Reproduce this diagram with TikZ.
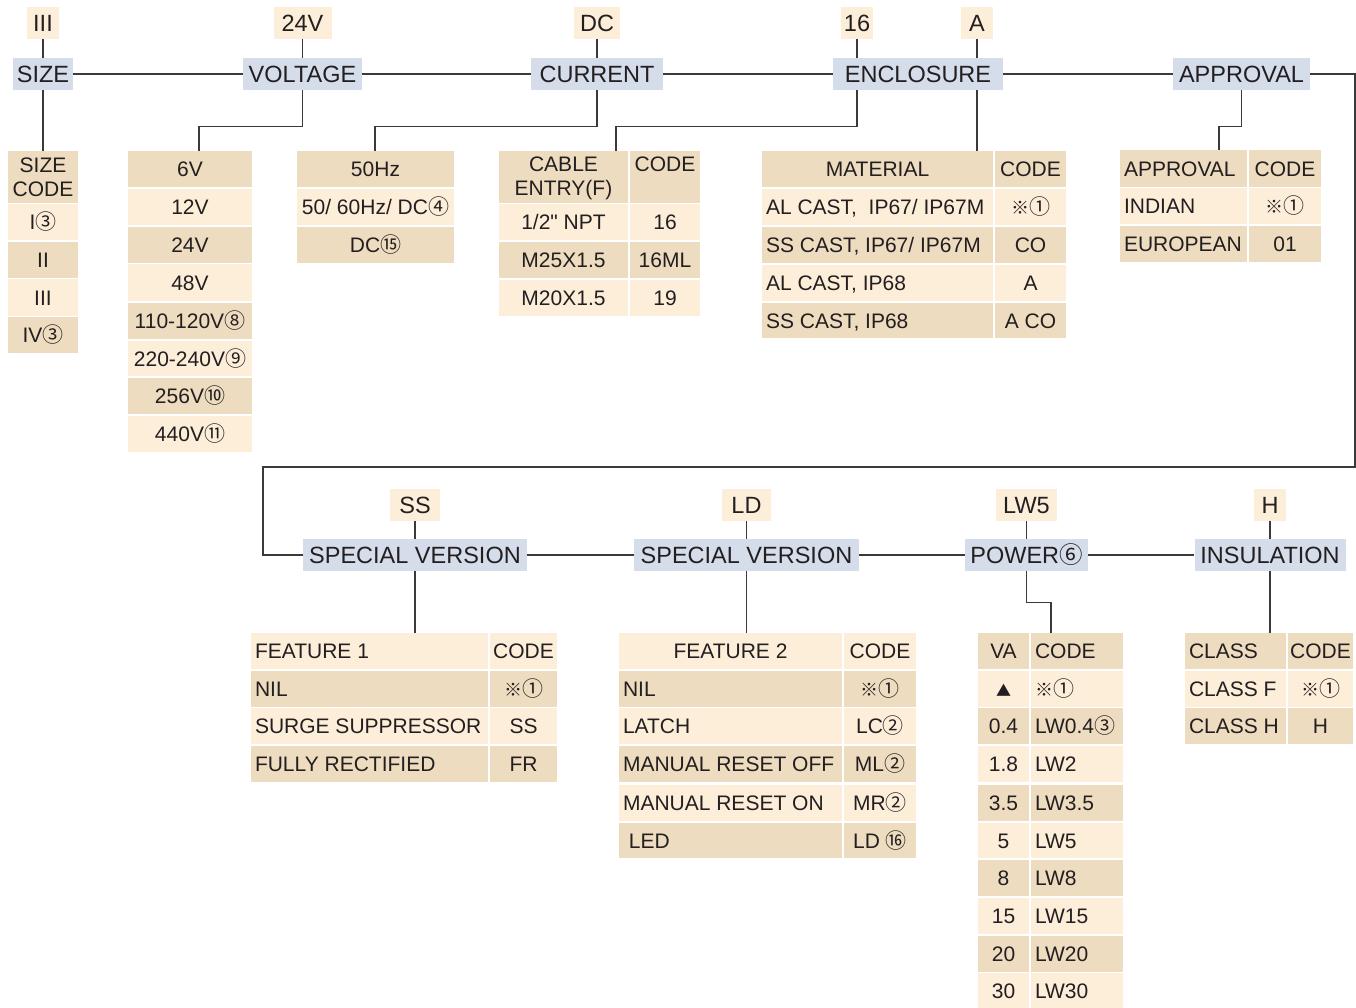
\documentclass[tikz,border=0pt]{standalone}
\usepackage{fontspec}
\setmainfont{Liberation Sans}[Ligatures=TeXOff]
\newfontfamily\symf{Noto Sans CJK SC}
\definecolor{tdk}{HTML}{EDDCBF}
\definecolor{tlt}{HTML}{FDEEDA}
\definecolor{hbl}{HTML}{D5DDEA}
\definecolor{ink}{HTML}{231F20}
\definecolor{wirec}{HTML}{3A3A3A}
\newcommand\cn[1]{{\symf #1}}
\newcommand\rmk{{\symf\fontsize{18}{18}\selectfont ※}}
\tikzset{
  cellbg/.style={draw=none,inner sep=0pt,rectangle},
  txt/.style={inner sep=0pt,text=ink,font=\fontsize{21}{25}\selectfont,text height=15pt,text depth=0pt},
  txtm/.style={inner sep=0pt,text=ink,font=\fontsize{21}{24}\selectfont,align=center},
  hdr/.style={fill=hbl,inner sep=0pt,text=ink,font=\fontsize{23.5}{28}\selectfont,text height=16.8pt,text depth=0pt,minimum height=32pt},
  val/.style={fill=tlt,inner sep=0pt,text=ink,font=\fontsize{23.5}{28}\selectfont,text height=16.8pt,text depth=0pt,minimum height=32pt},
  wire/.style={draw=wirec,line width=1.3pt}
}
\newcommand\tcell[8]{%
  \node[cellbg,fill=#6,minimum width={#4-#2},minimum height={#5-#3}] (#1) at ({(#2+#4)/2},{(#3+#5)/2}) {};
  \if#7l\node[txt,anchor=west] (#1t) at ([xshift=4pt]#1.west) {#8};\else\node[txt] (#1t) at (#1.center) {#8};\fi}
\begin{document}
\begin{tikzpicture}[x=1pt,y=-1pt]
\fill[white] (0,0) rectangle (1356,1007);
\useasboundingbox (0,0) rectangle (1356,1007);

% ---- top row headers
\node[hdr,minimum width=60pt] (hSize) at (43,74) {SIZE};
\node[hdr,minimum width=119pt] (hVolt) at (302.5,74) {VOLTAGE};
\node[hdr,minimum width=132pt] (hCur) at (597,74) {CURRENT};
\node[hdr,minimum width=170pt] (hEnc) at (918,74) {ENCLOSURE};
\node[hdr,minimum width=137pt] (hApp) at (1241.5,74) {APPROVAL};
% ---- top values
\node[val,minimum width=32pt] (vIII) at (43,23) {III};
\node[val,minimum width=58pt] (v24) at (302.5,23) {24V};
\node[val,minimum width=46pt] (vDC) at (597,23) {DC};
\node[val,minimum width=32pt] (v16) at (857,23) {16};
\node[val,minimum width=32pt] (vA) at (977,23) {A};

% ---- bottom row headers
\node[hdr,minimum width=224pt] (hSV1) at (415,555) {SPECIAL VERSION};
\node[hdr,minimum width=225pt] (hSV2) at (746.5,555) {SPECIAL VERSION};
\node[hdr,minimum width=123pt] (hPow) at (1026.5,555) {POWER\cn{⑥}};
\node[hdr,minimum width=151pt] (hIns) at (1270,555) {INSULATION};
\node[val,minimum width=50pt] (vSS) at (415,505) {SS};
\node[val,minimum width=49pt] (vLD) at (746.5,505) {LD};
\node[val,minimum width=61pt] (vLW5) at (1026.5,505) {LW5};
\node[val,minimum width=32pt] (vH) at (1270,505) {H};

% ---- SIZE table
\tcell{s0}{8}{151}{78}{203}{tdk}{c}{}
\node[txtm] (s0t) at (s0.center) {SIZE\\CODE};
\tcell{s1}{8}{204}{78}{240}{tlt}{c}{I\cn{③}}
\tcell{s2}{8}{242}{78}{278}{tdk}{c}{II}
\tcell{s3}{8}{279}{78}{316}{tlt}{c}{III}
\tcell{s4}{8}{317}{78}{353}{tdk}{c}{IV\cn{③}}

% ---- VOLTAGE table
\tcell{tv1}{128}{151}{252}{187}{tdk}{c}{6V}
\tcell{tv2}{128}{189}{252}{225}{tlt}{c}{12V}
\tcell{tv3}{128}{227}{252}{263}{tdk}{c}{24V}
\tcell{tv4}{128}{264}{252}{301}{tlt}{c}{48V}
\tcell{tv5}{128}{303}{252}{339}{tdk}{c}{110-120V\cn{⑧}}
\tcell{tv6}{128}{341}{252}{376}{tlt}{c}{220-240V\cn{⑨}}
\tcell{tv7}{128}{378}{252}{414}{tdk}{c}{256V\cn{⑩}}
\tcell{tv8}{128}{416}{252}{452}{tlt}{c}{440V\cn{⑪}}

% ---- CURRENT table
\tcell{c1}{297}{151}{454}{187}{tdk}{c}{50Hz}
\tcell{c2}{297}{189}{454}{225}{tlt}{c}{50/ 60Hz/ DC\cn{④}}
\tcell{c3}{297}{227}{454}{263}{tdk}{c}{DC\cn{⑮}}

% ---- CABLE ENTRY table
\tcell{ca0a}{499}{151}{628}{203}{tdk}{c}{}
\node[txtm] (ca0at) at ([yshift=-1.5pt]ca0a.center) {CABLE\\ENTRY(F)};
\tcell{ca0b}{630}{151}{700}{203}{tdk}{c}{}
\node[txt] (ca0bt) at (665,164) {CODE};
\tcell{ca1a}{499}{204}{628}{240}{tlt}{c}{1/2" NPT}
\tcell{ca1b}{630}{204}{700}{240}{tlt}{c}{16}
\tcell{ca2a}{499}{242}{628}{278}{tdk}{c}{M25X1.5}
\tcell{ca2b}{630}{242}{700}{278}{tdk}{c}{16ML}
\tcell{ca3a}{499}{280}{628}{316}{tlt}{c}{M20X1.5}
\tcell{ca3b}{630}{280}{700}{316}{tlt}{c}{19}

% ---- MATERIAL table
\tcell{m0a}{762}{151}{993}{187}{tdk}{c}{MATERIAL}
\tcell{m0b}{995}{151}{1066}{187}{tdk}{c}{CODE}
\tcell{m1a}{762}{189}{993}{225}{tlt}{l}{AL CAST,\ \ IP67/ IP67M}
\tcell{m1b}{995}{189}{1066}{225}{tlt}{c}{\rmk\cn{①}}
\tcell{m2a}{762}{227}{993}{263}{tdk}{l}{SS CAST, IP67/ IP67M}
\tcell{m2b}{995}{227}{1066}{263}{tdk}{c}{CO}
\tcell{m3a}{762}{265}{993}{301}{tlt}{l}{AL CAST, IP68}
\tcell{m3b}{995}{265}{1066}{301}{tlt}{c}{A}
\tcell{m4a}{762}{303}{993}{338}{tdk}{l}{SS CAST, IP68}
\tcell{m4b}{995}{303}{1066}{338}{tdk}{c}{A CO}

% ---- APPROVAL table
\tcell{a0a}{1120}{150}{1247}{187}{tdk}{l}{APPROVAL}
\tcell{a0b}{1249}{150}{1321}{187}{tdk}{c}{CODE}
\tcell{a1a}{1120}{188}{1247}{224}{tlt}{l}{INDIAN}
\tcell{a1b}{1249}{188}{1321}{224}{tlt}{c}{\rmk\cn{①}}
\tcell{a2a}{1120}{226}{1247}{262}{tdk}{l}{EUROPEAN}
\tcell{a2b}{1249}{226}{1321}{262}{tdk}{c}{01}

% ---- FEATURE 1 table
\tcell{f0a}{251}{633}{488}{669}{tlt}{l}{FEATURE 1}
\tcell{f0b}{490}{633}{557}{669}{tlt}{c}{CODE}
\tcell{f1a}{251}{671}{488}{707}{tdk}{l}{NIL}
\tcell{f1b}{490}{671}{557}{707}{tdk}{c}{\rmk\cn{①}}
\tcell{f2a}{251}{708}{488}{744}{tlt}{l}{SURGE SUPPRESSOR}
\tcell{f2b}{490}{708}{557}{744}{tlt}{c}{SS}
\tcell{f3a}{251}{746}{488}{782}{tdk}{l}{FULLY RECTIFIED}
\tcell{f3b}{490}{746}{557}{782}{tdk}{c}{FR}

% ---- FEATURE 2 table
\tcell{g0a}{619}{633}{842}{669}{tlt}{c}{FEATURE 2}
\tcell{g0b}{844}{633}{916}{669}{tlt}{c}{CODE}
\tcell{g1a}{619}{671}{842}{707}{tdk}{l}{NIL}
\tcell{g1b}{844}{671}{916}{707}{tdk}{c}{\rmk\cn{①}}
\tcell{g2a}{619}{708}{842}{744}{tlt}{l}{LATCH}
\tcell{g2b}{844}{708}{916}{744}{tlt}{c}{LC\cn{②}}
\tcell{g3a}{619}{746}{842}{782}{tdk}{l}{MANUAL RESET OFF}
\tcell{g3b}{844}{746}{916}{782}{tdk}{c}{ML\cn{②}}
\tcell{g4a}{619}{785}{842}{821}{tlt}{l}{MANUAL RESET ON}
\tcell{g4b}{844}{785}{916}{821}{tlt}{c}{MR\cn{②}}
\tcell{g5a}{619}{823}{842}{858}{tdk}{l}{\ LED}
\tcell{g5b}{844}{823}{916}{858}{tdk}{c}{LD \cn{⑯}}

% ---- POWER table
\tcell{p0a}{978}{633}{1029}{669}{tdk}{c}{VA}
\tcell{p0b}{1031}{633}{1123}{669}{tdk}{l}{CODE}
\tcell{p1a}{978}{671}{1029}{707}{tlt}{c}{{\symf\fontsize{15}{15}\selectfont ▲}}
\tcell{p1b}{1031}{671}{1123}{707}{tlt}{l}{\rmk\cn{①}}
\tcell{p2a}{978}{708}{1029}{744}{tdk}{c}{0.4}
\tcell{p2b}{1031}{708}{1123}{744}{tdk}{l}{LW0.4\cn{③}}
\tcell{p3a}{978}{746}{1029}{782}{tlt}{c}{1.8}
\tcell{p3b}{1031}{746}{1123}{782}{tlt}{l}{LW2}
\tcell{p4a}{978}{785}{1029}{821}{tdk}{c}{3.5}
\tcell{p4b}{1031}{785}{1123}{821}{tdk}{l}{LW3.5}
\tcell{p5a}{978}{823}{1029}{858}{tlt}{c}{5}
\tcell{p5b}{1031}{823}{1123}{858}{tlt}{l}{LW5}
\tcell{p6a}{978}{860}{1029}{896}{tdk}{c}{8}
\tcell{p6b}{1031}{860}{1123}{896}{tdk}{l}{LW8}
\tcell{p7a}{978}{898}{1029}{934}{tlt}{c}{15}
\tcell{p7b}{1031}{898}{1123}{934}{tlt}{l}{LW15}
\tcell{p8a}{978}{936}{1029}{972}{tdk}{c}{20}
\tcell{p8b}{1031}{936}{1123}{972}{tdk}{l}{LW20}
\tcell{p9a}{978}{973}{1029}{1009}{tlt}{c}{30}
\tcell{p9b}{1031}{973}{1123}{1009}{tlt}{l}{LW30}

% ---- INSULATION table
\tcell{i0a}{1185}{633}{1286}{669}{tdk}{l}{CLASS}
\tcell{i0b}{1288}{633}{1353}{669}{tdk}{c}{CODE}
\tcell{i1a}{1185}{671}{1286}{707}{tlt}{l}{CLASS F}
\tcell{i1b}{1288}{671}{1353}{707}{tlt}{c}{\rmk\cn{①}}
\tcell{i2a}{1185}{708}{1286}{744}{tdk}{l}{CLASS H}
\tcell{i2b}{1288}{708}{1353}{744}{tdk}{c}{H}

% ---- junction coordinates
\coordinate (jv) at (199,151);
\coordinate (jc) at (375,151);
\coordinate (jca) at (616,151);
\coordinate (ja) at (1219,150);
\coordinate (jp) at (1051,633);
\coordinate (r1) at (1355,74);
\coordinate (r2) at (1355,467);
\coordinate (r3) at (263,467);
\coordinate (r4) at (263,555);

% ---- connectors top
\draw[wire] (hSize) -- (hVolt);
\draw[wire] (hVolt) -- (hCur);
\draw[wire] (hCur) -- (hEnc);
\draw[wire] (hEnc) -- (hApp);
\draw[wire] (vIII) -- (hSize);
\draw[wire] (hSize) -- (s0);
\draw[wire] (v24) -- (hVolt);
\draw[wire] (hVolt.south) -- ++(0,36) -| (jv);
\draw[wire] (vDC) -- (hCur);
\draw[wire] (hCur.south) -- ++(0,36) -| (jc);
\draw[wire] (v16) -- (v16 |- hEnc.north);
\draw[wire] (v16 |- hEnc.south) -- ++(0,36) -| (jca);
\draw[wire] (vA) -- (vA |- hEnc.north);
\draw[wire] (vA |- hEnc.south) -- (vA |- m0a.north);
\draw[wire] (hApp.south) -- ++(0,36) -| (ja);
\draw[wire] (hApp.east) -- (r1) -- (r2) -- (r3) -- (r4) -- (hSV1.west);

% ---- connectors bottom
\draw[wire] (hSV1) -- (hSV2);
\draw[wire] (hSV2) -- (hPow);
\draw[wire] (hPow) -- (hIns);
\draw[wire] (vSS) -- (hSV1);
\draw[wire] (vLD) -- (hSV2);
\draw[wire] (vLW5) -- (hPow);
\draw[wire] (vH) -- (hIns);
\draw[wire] (hSV1.south) -- (hSV1.south |- f0a.north);
\draw[wire] (hSV2.south) -- (hSV2.south |- g0a.north);
\draw[wire] (hPow.south) -- ++(0,31) -| (jp);
\draw[wire] (hIns.south) -- (hIns.south |- i0a.north);
\end{tikzpicture}
\end{document}
